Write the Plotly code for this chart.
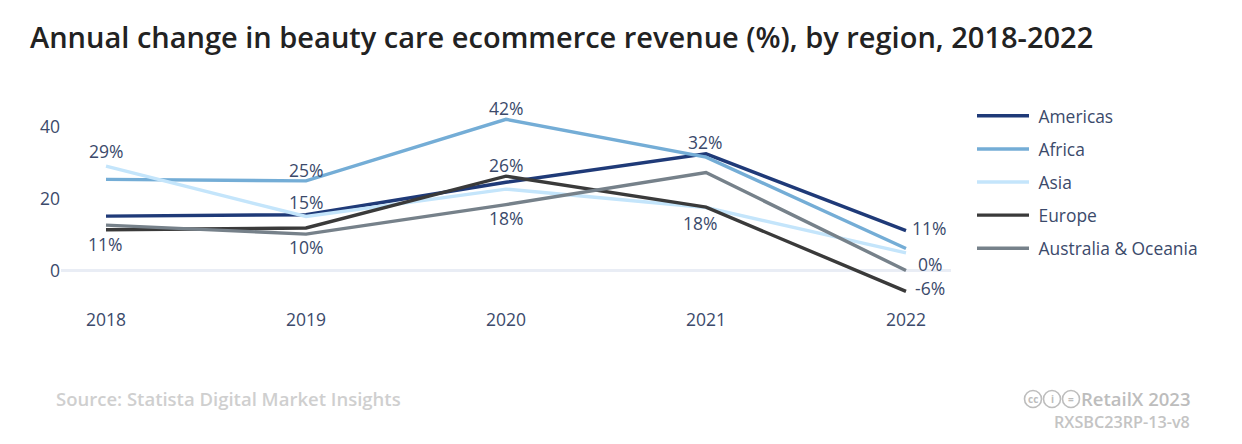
import plotly.graph_objects as go

years = [2018, 2019, 2020, 2021, 2022]
americas = [15.1, 15.5, 24.5, 32.4, 11.1]
africa = [25.3, 24.9, 42.0, 31.5, 6.1]
asia = [29.0, 15.0, 22.6, 17.5, 4.9]
europe = [11.3, 11.8, 26.2, 17.6, -5.8]
australia = [12.6, 10.1, 18.3, 27.2, 0.0]

names = ["Americas", "Africa", "Asia", "Europe", "Australia & Oceania"]
colors = ["#1f3a78", "#74add6", "#c4e5fb", "#3a3a3a", "#76818a"]
series = [americas, africa, asia, europe, australia]

TEXT = "#3b4a6b"
FONT = "Open Sans"
OFF = 8  # page margin around the figure
W, H = 1242 - OFF, 444 - OFF
L, R, T, B = 61, 951, 90, 305  # page pixels

fig = go.Figure()
for n, c, s in zip(names, colors, series):
    fig.add_trace(go.Scatter(x=years, y=s, mode="lines", name="\u00a0" + n, legendgroup=n,
                             line=dict(color=c, width=3.4), hoverinfo="skip"))

def px(x): return (x - L) / (R - L)
def py(y): return (B - y) / (B - T)

annotations = []
# value labels: (year, value, text, x shift, y shift)
labels = [
    (2018, 29.0, "29%", 0, 15), (2018, 11.3, "11%", -1, -14),
    (2019, 24.9, "25%", 0, 11), (2019, 15.0, "15%", 0, 15), (2019, 10.1, "10%", 0, -13),
    (2020, 42.0, "42%", 0, 11), (2020, 26.2, "26%", 0, 11), (2020, 18.3, "18%", 0, -13),
    (2021, 32.4, "32%", -1, 12), (2021, 17.6, "18%", -6, -16),
    (2022, 11.1, "11%", 23, 3), (2022, 0.0, "0%", 24, 7), (2022, -5.8, "-6%", 24, 3),
]
for x, y, t, dx, dy in labels:
    annotations.append(dict(x=x, y=y, text=t, showarrow=False, xshift=dx, yshift=dy,
                            font=dict(family=FONT, size=17.5, color=TEXT)))

def text(x, y, t, size, color, anchor="left", weight=400):
    annotations.append(dict(xref="paper", yref="paper", x=px(x), y=py(y), text=t, showarrow=False,
                            xanchor=anchor, yanchor="middle",
                            font=dict(family=FONT, size=size, color=color, weight=weight)))

text(28, 37, "Annual change in beauty care ecommerce revenue (%), by region, 2018-2022", 29, "#222222", weight=600)
text(54, 398, "Source: Statista Digital Market Insights", 18.5, "#cfcfcf", weight=600)
text(1192, 398, "RetailX 2023", 18.5, "#bdbdbd", "right", 600)
text(1192, 422, "RXSBC23RP-13-v8", 16.2, "#c4c4c4", "right", 600)

shapes = []
for cx, glyph in zip([1033, 1052, 1071], ["cc", "i", "="]):
    shapes.append(dict(type="circle", xref="paper", yref="paper",
                       x0=px(cx - 8.5), x1=px(cx + 8.5), y0=py(399 + 8.5), y1=py(399 - 8.5),
                       line=dict(color="#bdbdbd", width=1.6)))
    annotations.append(dict(xref="paper", yref="paper", x=px(cx), y=py(399), text=glyph, showarrow=False,
                            xanchor="center", yanchor="middle",
                            font=dict(family=FONT, size=10, color="#bdbdbd", weight=700)))

fig.update_layout(
    width=W, height=H, autosize=False,
    margin=dict(l=L - OFF, r=W + OFF - R, t=T - OFF, b=H + OFF - B, pad=0),
    paper_bgcolor="white", plot_bgcolor="white",
    font=dict(family=FONT, size=16, color=TEXT),
    xaxis=dict(range=[2017.775, 2022.225], tickvals=years, ticktext=[str(y) for y in years],
               showgrid=False, zeroline=False, showline=False, ticks="", ticklabelstandoff=2,
               tickfont=dict(family=FONT, size=17.5, color=TEXT)),
    yaxis=dict(range=[(270.5 - B) / 3.6, (270.5 - T) / 3.6], tickvals=[0, 20, 40],
               showgrid=False, zeroline=True, zerolinecolor="#e9edf5", zerolinewidth=3,
               showline=False, ticks="", tickfont=dict(family=FONT, size=17.5, color=TEXT)),
    legend=dict(x=px(972), y=py(98), xanchor="left", yanchor="top", itemwidth=52,
                tracegroupgap=7.5, traceorder="grouped", groupclick="toggleitem",
                font=dict(family=FONT, size=17.4, color=TEXT), bgcolor="rgba(0,0,0,0)"),
    annotations=annotations, shapes=shapes,
)
fig.write_html("out.html", config=dict(displayModeBar=False))
